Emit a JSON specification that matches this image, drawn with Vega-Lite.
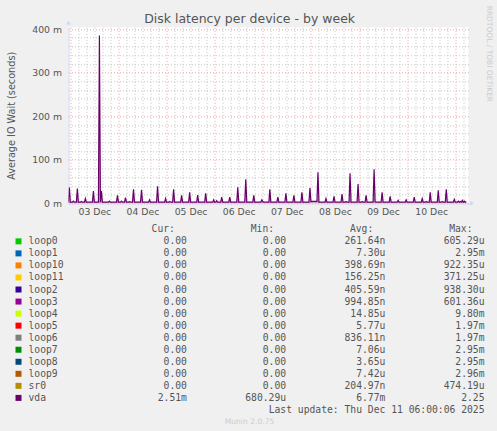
{
  "$schema": "https://vega.github.io/schema/vega-lite/v6.json",
  "background": "#f0f0f0",
  "padding": {"left": 5.5, "top": 5.3, "right": 12, "bottom": 12},
  "autosize": "pad",
  "config": {"view": {"stroke": null}, "font": "DejaVu Sans"},
  "title": {
    "text": "Disk latency per device - by week",
    "anchor": "middle",
    "frame": "bounds",
    "font": "DejaVu Sans",
    "fontSize": 12.5,
    "fontWeight": "normal",
    "color": "#555555",
    "offset": -20
  },
  "spacing": 7,
  "datasets": {
    "vda": [
      {"t": "2025-12-02T23:00", "v": 0.0025}, {"t": "2025-12-02T23:30", "v": 0.036}, {"t": "2025-12-03T00:00", "v": 0.0025},
      {"t": "2025-12-03T01:00", "v": 0.0025}, {"t": "2025-12-03T01:30", "v": 0.005}, {"t": "2025-12-03T02:00", "v": 0.0025},
      {"t": "2025-12-03T03:00", "v": 0.0025}, {"t": "2025-12-03T03:30", "v": 0.034}, {"t": "2025-12-03T04:00", "v": 0.0025},
      {"t": "2025-12-03T05:00", "v": 0.0025}, {"t": "2025-12-03T05:30", "v": 0.004}, {"t": "2025-12-03T06:00", "v": 0.0025},
      {"t": "2025-12-03T07:00", "v": 0.0025}, {"t": "2025-12-03T07:30", "v": 0.011}, {"t": "2025-12-03T08:00", "v": 0.0025},
      {"t": "2025-12-03T11:00", "v": 0.0025}, {"t": "2025-12-03T11:30", "v": 0.028}, {"t": "2025-12-03T12:00", "v": 0.0025},
      {"t": "2025-12-03T14:00", "v": 0.0025}, {"t": "2025-12-03T14:30", "v": 0.385}, {"t": "2025-12-03T15:00", "v": 0.0025},
      {"t": "2025-12-03T15:30", "v": 0.028}, {"t": "2025-12-03T16:00", "v": 0.0025},
      {"t": "2025-12-03T19:00", "v": 0.0025}, {"t": "2025-12-03T19:30", "v": 0.005}, {"t": "2025-12-03T20:00", "v": 0.0025},
      {"t": "2025-12-03T23:00", "v": 0.0025}, {"t": "2025-12-03T23:30", "v": 0.018}, {"t": "2025-12-04T00:00", "v": 0.0025},
      {"t": "2025-12-04T01:00", "v": 0.0025}, {"t": "2025-12-04T01:30", "v": 0.005}, {"t": "2025-12-04T02:00", "v": 0.0025},
      {"t": "2025-12-04T03:00", "v": 0.0025}, {"t": "2025-12-04T03:30", "v": 0.013}, {"t": "2025-12-04T04:00", "v": 0.0025},
      {"t": "2025-12-04T05:00", "v": 0.0025}, {"t": "2025-12-04T05:30", "v": 0.004}, {"t": "2025-12-04T06:00", "v": 0.0025},
      {"t": "2025-12-04T07:00", "v": 0.0025}, {"t": "2025-12-04T07:30", "v": 0.032}, {"t": "2025-12-04T08:00", "v": 0.0025},
      {"t": "2025-12-04T11:00", "v": 0.0025}, {"t": "2025-12-04T11:30", "v": 0.031}, {"t": "2025-12-04T12:00", "v": 0.0025},
      {"t": "2025-12-04T15:00", "v": 0.0025}, {"t": "2025-12-04T15:30", "v": 0.008}, {"t": "2025-12-04T16:00", "v": 0.0025},
      {"t": "2025-12-04T19:00", "v": 0.0025}, {"t": "2025-12-04T19:30", "v": 0.039}, {"t": "2025-12-04T20:00", "v": 0.0025},
      {"t": "2025-12-04T23:00", "v": 0.0025}, {"t": "2025-12-04T23:30", "v": 0.011}, {"t": "2025-12-05T00:00", "v": 0.0025},
      {"t": "2025-12-05T01:00", "v": 0.0025}, {"t": "2025-12-05T01:30", "v": 0.004}, {"t": "2025-12-05T02:00", "v": 0.0025},
      {"t": "2025-12-05T03:00", "v": 0.0025}, {"t": "2025-12-05T03:30", "v": 0.032}, {"t": "2025-12-05T04:00", "v": 0.0025},
      {"t": "2025-12-05T07:00", "v": 0.0025}, {"t": "2025-12-05T07:30", "v": 0.018}, {"t": "2025-12-05T08:00", "v": 0.0025},
      {"t": "2025-12-05T11:00", "v": 0.0025}, {"t": "2025-12-05T11:30", "v": 0.025}, {"t": "2025-12-05T12:00", "v": 0.0025},
      {"t": "2025-12-05T15:00", "v": 0.0025}, {"t": "2025-12-05T15:30", "v": 0.019}, {"t": "2025-12-05T16:00", "v": 0.0025},
      {"t": "2025-12-05T19:00", "v": 0.0025}, {"t": "2025-12-05T19:30", "v": 0.023}, {"t": "2025-12-05T20:00", "v": 0.0025},
      {"t": "2025-12-05T23:00", "v": 0.0025}, {"t": "2025-12-05T23:30", "v": 0.008}, {"t": "2025-12-06T00:00", "v": 0.0025},
      {"t": "2025-12-06T00:30", "v": 0.0025}, {"t": "2025-12-06T01:00", "v": 0.006}, {"t": "2025-12-06T01:30", "v": 0.0025},
      {"t": "2025-12-06T03:00", "v": 0.0025}, {"t": "2025-12-06T03:30", "v": 0.014}, {"t": "2025-12-06T04:00", "v": 0.0025},
      {"t": "2025-12-06T07:00", "v": 0.0025}, {"t": "2025-12-06T07:30", "v": 0.014}, {"t": "2025-12-06T08:00", "v": 0.0025},
      {"t": "2025-12-06T11:00", "v": 0.0025}, {"t": "2025-12-06T11:30", "v": 0.037}, {"t": "2025-12-06T12:00", "v": 0.0025},
      {"t": "2025-12-06T15:00", "v": 0.0025}, {"t": "2025-12-06T15:30", "v": 0.055}, {"t": "2025-12-06T16:00", "v": 0.0025},
      {"t": "2025-12-06T19:00", "v": 0.0025}, {"t": "2025-12-06T19:30", "v": 0.018}, {"t": "2025-12-06T20:00", "v": 0.0025},
      {"t": "2025-12-06T23:00", "v": 0.0025}, {"t": "2025-12-06T23:30", "v": 0.008}, {"t": "2025-12-07T00:00", "v": 0.004},
      {"t": "2025-12-07T00:30", "v": 0.0025},
      {"t": "2025-12-07T03:00", "v": 0.0025}, {"t": "2025-12-07T03:30", "v": 0.032}, {"t": "2025-12-07T04:00", "v": 0.0025},
      {"t": "2025-12-07T07:00", "v": 0.0025}, {"t": "2025-12-07T07:30", "v": 0.014}, {"t": "2025-12-07T08:00", "v": 0.0025},
      {"t": "2025-12-07T11:00", "v": 0.0025}, {"t": "2025-12-07T11:30", "v": 0.023}, {"t": "2025-12-07T12:00", "v": 0.0025},
      {"t": "2025-12-07T15:00", "v": 0.0025}, {"t": "2025-12-07T15:30", "v": 0.018}, {"t": "2025-12-07T16:00", "v": 0.0025},
      {"t": "2025-12-07T19:00", "v": 0.0025}, {"t": "2025-12-07T19:30", "v": 0.025}, {"t": "2025-12-07T20:00", "v": 0.0025},
      {"t": "2025-12-07T23:00", "v": 0.0025}, {"t": "2025-12-07T23:30", "v": 0.035}, {"t": "2025-12-08T00:00", "v": 0.0045},
      {"t": "2025-12-08T01:00", "v": 0.0045}, {"t": "2025-12-08T02:00", "v": 0.0045}, {"t": "2025-12-08T03:00", "v": 0.0045},
      {"t": "2025-12-08T03:30", "v": 0.071}, {"t": "2025-12-08T04:00", "v": 0.0025},
      {"t": "2025-12-08T07:00", "v": 0.0025}, {"t": "2025-12-08T07:30", "v": 0.011}, {"t": "2025-12-08T08:00", "v": 0.0025},
      {"t": "2025-12-08T11:00", "v": 0.0025}, {"t": "2025-12-08T11:30", "v": 0.016}, {"t": "2025-12-08T12:00", "v": 0.0025},
      {"t": "2025-12-08T15:00", "v": 0.0025}, {"t": "2025-12-08T15:30", "v": 0.021}, {"t": "2025-12-08T16:00", "v": 0.0025},
      {"t": "2025-12-08T17:00", "v": 0.0025}, {"t": "2025-12-08T17:30", "v": 0.004}, {"t": "2025-12-08T18:00", "v": 0.0025},
      {"t": "2025-12-08T19:00", "v": 0.0025}, {"t": "2025-12-08T19:30", "v": 0.069}, {"t": "2025-12-08T20:00", "v": 0.0025},
      {"t": "2025-12-08T23:00", "v": 0.0025}, {"t": "2025-12-08T23:30", "v": 0.044}, {"t": "2025-12-09T00:00", "v": 0.0025},
      {"t": "2025-12-09T01:00", "v": 0.0025}, {"t": "2025-12-09T01:30", "v": 0.004}, {"t": "2025-12-09T02:00", "v": 0.0025},
      {"t": "2025-12-09T03:00", "v": 0.0025}, {"t": "2025-12-09T03:30", "v": 0.018}, {"t": "2025-12-09T04:00", "v": 0.0025},
      {"t": "2025-12-09T07:00", "v": 0.0025}, {"t": "2025-12-09T07:30", "v": 0.078}, {"t": "2025-12-09T08:00", "v": 0.004},
      {"t": "2025-12-09T08:30", "v": 0.0025},
      {"t": "2025-12-09T11:00", "v": 0.0025}, {"t": "2025-12-09T11:30", "v": 0.025}, {"t": "2025-12-09T12:00", "v": 0.0025},
      {"t": "2025-12-09T15:00", "v": 0.0025}, {"t": "2025-12-09T15:30", "v": 0.016}, {"t": "2025-12-09T16:00", "v": 0.0025},
      {"t": "2025-12-09T19:00", "v": 0.0025}, {"t": "2025-12-09T19:30", "v": 0.007}, {"t": "2025-12-09T20:00", "v": 0.0025},
      {"t": "2025-12-09T23:00", "v": 0.0025}, {"t": "2025-12-09T23:30", "v": 0.008}, {"t": "2025-12-10T00:00", "v": 0.0025},
      {"t": "2025-12-10T03:00", "v": 0.0025}, {"t": "2025-12-10T03:30", "v": 0.014}, {"t": "2025-12-10T04:00", "v": 0.0025},
      {"t": "2025-12-10T07:00", "v": 0.0025}, {"t": "2025-12-10T07:30", "v": 0.011}, {"t": "2025-12-10T08:00", "v": 0.0025},
      {"t": "2025-12-10T09:00", "v": 0.0025}, {"t": "2025-12-10T09:30", "v": 0.004}, {"t": "2025-12-10T10:00", "v": 0.0025},
      {"t": "2025-12-10T11:00", "v": 0.0025}, {"t": "2025-12-10T11:30", "v": 0.025}, {"t": "2025-12-10T12:00", "v": 0.0025},
      {"t": "2025-12-10T15:00", "v": 0.0025}, {"t": "2025-12-10T15:30", "v": 0.030}, {"t": "2025-12-10T16:00", "v": 0.0025},
      {"t": "2025-12-10T17:00", "v": 0.0025}, {"t": "2025-12-10T17:30", "v": 0.004}, {"t": "2025-12-10T18:00", "v": 0.0025},
      {"t": "2025-12-10T19:00", "v": 0.0025}, {"t": "2025-12-10T19:30", "v": 0.032}, {"t": "2025-12-10T20:00", "v": 0.0025},
      {"t": "2025-12-10T23:00", "v": 0.0025}, {"t": "2025-12-10T23:30", "v": 0.009}, {"t": "2025-12-11T00:00", "v": 0.0025},
      {"t": "2025-12-11T01:00", "v": 0.0025}, {"t": "2025-12-11T01:30", "v": 0.005}, {"t": "2025-12-11T02:00", "v": 0.0025},
      {"t": "2025-12-11T02:30", "v": 0.004}, {"t": "2025-12-11T03:00", "v": 0.0025}, {"t": "2025-12-11T03:30", "v": 0.007},
      {"t": "2025-12-11T04:00", "v": 0.0025}, {"t": "2025-12-11T04:30", "v": 0.005}, {"t": "2025-12-11T05:00", "v": 0.0025},
      {"t": "2025-12-11T05:30", "v": 0.0035}
    ],
    "devices": [
      {"name": "loop0", "cur": "0.00", "min": "0.00", "avg": "261.64n", "max": "605.29u"},
      {"name": "loop1", "cur": "0.00", "min": "0.00", "avg": "7.30u", "max": "2.95m"},
      {"name": "loop10", "cur": "0.00", "min": "0.00", "avg": "398.69n", "max": "922.35u"},
      {"name": "loop11", "cur": "0.00", "min": "0.00", "avg": "156.25n", "max": "371.25u"},
      {"name": "loop2", "cur": "0.00", "min": "0.00", "avg": "405.59n", "max": "938.30u"},
      {"name": "loop3", "cur": "0.00", "min": "0.00", "avg": "994.85n", "max": "601.36u"},
      {"name": "loop4", "cur": "0.00", "min": "0.00", "avg": "14.85u", "max": "9.80m"},
      {"name": "loop5", "cur": "0.00", "min": "0.00", "avg": "5.77u", "max": "1.97m"},
      {"name": "loop6", "cur": "0.00", "min": "0.00", "avg": "836.11n", "max": "1.97m"},
      {"name": "loop7", "cur": "0.00", "min": "0.00", "avg": "7.06u", "max": "2.95m"},
      {"name": "loop8", "cur": "0.00", "min": "0.00", "avg": "3.65u", "max": "2.95m"},
      {"name": "loop9", "cur": "0.00", "min": "0.00", "avg": "7.42u", "max": "2.96m"},
      {"name": "sr0", "cur": "0.00", "min": "0.00", "avg": "204.97n", "max": "474.19u"},
      {"name": "vda", "cur": "2.51m", "min": "680.29u", "avg": "6.77m", "max": "2.25"}
    ]
  },
  "vconcat": [
    {
      "width": 400,
      "height": 176,
      "view": {"fill": "#ffffff", "stroke": null},
      "resolve": {"axis": {"x": "independent", "y": "independent"}},
      "layer": [
        {
          "data": {"name": "vda"},
          "mark": {"type": "line", "color": "#6B006B", "strokeWidth": 1.2, "clip": true},
          "encoding": {
            "x": {
              "field": "t",
              "type": "temporal",
              "scale": {"domain": [
                {"year": 2025, "month": 12, "date": 2, "hours": 23, "minutes": 5},
                {"year": 2025, "month": 12, "date": 11, "hours": 6, "minutes": 35}
              ]},
              "axis": {
                "orient": "bottom",
                "title": null,
                "values": [
                  {"year": 2025, "month": 12, "date": 3}, {"year": 2025, "month": 12, "date": 4}, {"year": 2025, "month": 12, "date": 5},
                  {"year": 2025, "month": 12, "date": 6}, {"year": 2025, "month": 12, "date": 7}, {"year": 2025, "month": 12, "date": 8},
                  {"year": 2025, "month": 12, "date": 9}, {"year": 2025, "month": 12, "date": 10}, {"year": 2025, "month": 12, "date": 11}
                ],
                "format": "%d %b",
                "labelExpr": "datum.label == '11 Dec' ? '' : datum.label",
                "labelOffset": 24,
                "labelFlush": false,
                "labelFont": "DejaVu Sans",
                "labelFontSize": 9.3,
                "labelColor": "#555555",
                "labelPadding": 4,
                "ticks": false,
                "grid": true,
                "gridColor": "#eba0a0",
                "gridDash": [1, 2],
                "domainColor": "#cfd6f8"
              }
            },
            "y": {
              "field": "v",
              "type": "quantitative",
              "scale": {"domain": [0, 0.404], "nice": false},
              "axis": {
                "orient": "left",
                "title": "Average IO Wait (seconds)",
                "titleFont": "DejaVu Sans",
                "titleFontSize": 9.7,
                "titleFontWeight": "normal",
                "titleColor": "#555555",
                "titleX": -57,
                "titleBaseline": "middle",
                "values": [0, 0.1, 0.2, 0.3, 0.4],
                "format": "~s",
                "labelExpr": "replace(datum.label, 'm', ' m')",
                "labelFont": "DejaVu Sans",
                "labelFontSize": 9.3,
                "labelColor": "#555555",
                "labelPadding": 7,
                "ticks": false,
                "grid": true,
                "gridColor": "#eba0a0",
                "gridDash": [1, 2],
                "domainColor": "#cfd6f8"
              }
            }
          }
        },
        {
          "data": {"name": "vda"},
          "mark": {"type": "area", "color": "#6B006B", "opacity": 0.35, "clip": true},
          "encoding": {
            "x": {"field": "t", "type": "temporal", "axis": null},
            "y": {"field": "v", "type": "quantitative", "axis": null}
          }
        },
        {
          "data": {"values": [{}]},
          "mark": {"type": "point", "shape": "triangle-up", "filled": true, "color": "#cfd6f8", "opacity": 1, "size": 22, "clip": false},
          "encoding": {
            "x": {
              "datum": {"year": 2025, "month": 12, "date": 2, "hours": 23, "minutes": 5},
              "type": "temporal",
              "axis": {
                "orient": "bottom",
                "title": null,
                "labels": false,
                "ticks": false,
                "domain": false,
                "grid": true,
                "gridColor": "#c4c4c4",
                "gridDash": [1, 2],
                "values": [
                  {"year": 2025, "month": 12, "date": 3, "hours": 4}, {"year": 2025, "month": 12, "date": 3, "hours": 8}, {"year": 2025, "month": 12, "date": 3, "hours": 12}, {"year": 2025, "month": 12, "date": 3, "hours": 16}, {"year": 2025, "month": 12, "date": 3, "hours": 20},
                  {"year": 2025, "month": 12, "date": 4, "hours": 4}, {"year": 2025, "month": 12, "date": 4, "hours": 8}, {"year": 2025, "month": 12, "date": 4, "hours": 12}, {"year": 2025, "month": 12, "date": 4, "hours": 16}, {"year": 2025, "month": 12, "date": 4, "hours": 20},
                  {"year": 2025, "month": 12, "date": 5, "hours": 4}, {"year": 2025, "month": 12, "date": 5, "hours": 8}, {"year": 2025, "month": 12, "date": 5, "hours": 12}, {"year": 2025, "month": 12, "date": 5, "hours": 16}, {"year": 2025, "month": 12, "date": 5, "hours": 20},
                  {"year": 2025, "month": 12, "date": 6, "hours": 4}, {"year": 2025, "month": 12, "date": 6, "hours": 8}, {"year": 2025, "month": 12, "date": 6, "hours": 12}, {"year": 2025, "month": 12, "date": 6, "hours": 16}, {"year": 2025, "month": 12, "date": 6, "hours": 20},
                  {"year": 2025, "month": 12, "date": 7, "hours": 4}, {"year": 2025, "month": 12, "date": 7, "hours": 8}, {"year": 2025, "month": 12, "date": 7, "hours": 12}, {"year": 2025, "month": 12, "date": 7, "hours": 16}, {"year": 2025, "month": 12, "date": 7, "hours": 20},
                  {"year": 2025, "month": 12, "date": 8, "hours": 4}, {"year": 2025, "month": 12, "date": 8, "hours": 8}, {"year": 2025, "month": 12, "date": 8, "hours": 12}, {"year": 2025, "month": 12, "date": 8, "hours": 16}, {"year": 2025, "month": 12, "date": 8, "hours": 20},
                  {"year": 2025, "month": 12, "date": 9, "hours": 4}, {"year": 2025, "month": 12, "date": 9, "hours": 8}, {"year": 2025, "month": 12, "date": 9, "hours": 12}, {"year": 2025, "month": 12, "date": 9, "hours": 16}, {"year": 2025, "month": 12, "date": 9, "hours": 20},
                  {"year": 2025, "month": 12, "date": 10, "hours": 4}, {"year": 2025, "month": 12, "date": 10, "hours": 8}, {"year": 2025, "month": 12, "date": 10, "hours": 12}, {"year": 2025, "month": 12, "date": 10, "hours": 16}, {"year": 2025, "month": 12, "date": 10, "hours": 20},
                  {"year": 2025, "month": 12, "date": 11, "hours": 4}
                ]
              }
            },
            "y": {
              "datum": 0.415,
              "type": "quantitative",
              "axis": {
                "orient": "left",
                "title": null,
                "labels": false,
                "ticks": false,
                "domain": false,
                "grid": true,
                "gridColor": "#c4c4c4",
                "gridDash": [1, 2],
                "values": [0.02, 0.04, 0.06, 0.08, 0.12, 0.14, 0.16, 0.18, 0.22, 0.24, 0.26, 0.28, 0.32, 0.34, 0.36, 0.38]
              }
            }
          }
        },
        {
          "data": {"values": [{}]},
          "mark": {"type": "point", "shape": "triangle-right", "filled": true, "color": "#cfd6f8", "opacity": 1, "size": 22, "clip": false},
          "encoding": {
            "x": {"datum": {"year": 2025, "month": 12, "date": 11, "hours": 8, "minutes": 20}, "type": "temporal", "axis": null},
            "y": {"datum": 0, "type": "quantitative", "axis": null}
          }
        },
        {
          "data": {"values": [{"label": "RRDTOOL / TOBI OETIKER"}]},
          "mark": {"type": "text", "angle": 90, "align": "center", "baseline": "middle", "font": "DejaVu Sans", "fontSize": 7.5, "color": "#cccccc", "clip": false},
          "encoding": {
            "x": {"datum": {"year": 2025, "month": 12, "date": 11, "hours": 16, "minutes": 41}, "type": "temporal", "axis": null},
            "y": {"datum": 0.343, "type": "quantitative", "axis": null},
            "text": {"field": "label"}
          }
        }
      ]
    },
    {
      "width": 416,
      "height": 192.7,
      "view": {"stroke": null},
      "layer": [
        {
          "data": {"name": "devices"},
          "mark": {"type": "square", "size": 36, "filled": true, "opacity": 1},
          "encoding": {
            "x": {"value": -50},
            "y": {"field": "name", "type": "ordinal", "axis": null, "scale": {"type": "point", "padding": 0, "domain": ["hdr", "loop0", "loop1", "loop10", "loop11", "loop2", "loop3", "loop4", "loop5", "loop6", "loop7", "loop8", "loop9", "sr0", "vda", "upd", "munin"]}},
            "color": {
              "field": "name",
              "type": "nominal",
              "legend": null,
              "scale": {
                "domain": ["loop0", "loop1", "loop10", "loop11", "loop2", "loop3", "loop4", "loop5", "loop6", "loop7", "loop8", "loop9", "sr0", "vda"],
                "range": ["#00CC00", "#0066B3", "#FF8000", "#FFCC00", "#330099", "#990099", "#CCFF00", "#FF0000", "#808080", "#008F00", "#00487D", "#B35A00", "#B38F00", "#6B006B"]
              }
            }
          }
        },
        {
          "data": {"name": "devices"},
          "mark": {"type": "text", "align": "left", "baseline": "middle", "font": "DejaVu Sans Mono", "fontSize": 9.7, "color": "#555555"},
          "encoding": {
            "x": {"value": -40},
            "y": {"field": "name", "type": "ordinal", "axis": null},
            "text": {"field": "name"}
          }
        },
        {
          "data": {"name": "devices"},
          "transform": [
            {"fold": ["cur", "min", "avg", "max"], "as": ["key", "val"]},
            {"calculate": "indexof('0123456789', substring(datum.val, length(datum.val) - 1)) >= 0 ? datum.val + '\u00a0' : datum.val", "as": "label"}
          ],
          "mark": {"type": "text", "align": "right", "baseline": "middle", "font": "DejaVu Sans Mono", "fontSize": 9.7, "color": "#555555"},
          "encoding": {
            "x": {"field": "key", "type": "ordinal", "axis": null, "scale": {"type": "point", "padding": 0.5968, "align": 1, "domain": ["cur", "min", "avg", "max"]}},
            "y": {"field": "name", "type": "ordinal", "axis": null},
            "text": {"field": "label"}
          }
        },
        {
          "data": {"values": [{"key": "cur", "label": "Cur:"}, {"key": "min", "label": "Min:"}, {"key": "avg", "label": "Avg:"}, {"key": "max", "label": "Max:"}]},
          "mark": {"type": "text", "align": "right", "baseline": "middle", "dx": -12, "font": "DejaVu Sans Mono", "fontSize": 9.7, "color": "#555555"},
          "encoding": {
            "x": {"field": "key", "type": "ordinal", "axis": null},
            "y": {"datum": "hdr", "type": "ordinal", "axis": null},
            "text": {"field": "label"}
          }
        },
        {
          "data": {"values": [{"label": "Last update: Thu Dec 11 06:00:06 2025"}]},
          "mark": {"type": "text", "align": "right", "baseline": "middle", "font": "DejaVu Sans Mono", "fontSize": 9.7, "color": "#555555"},
          "encoding": {
            "x": {"datum": "max", "type": "ordinal", "axis": null},
            "y": {"datum": "upd", "type": "ordinal", "axis": null},
            "text": {"field": "label"}
          }
        },
        {
          "data": {"values": [{"label": "Munin 2.0.75"}]},
          "mark": {"type": "text", "align": "center", "baseline": "middle", "font": "DejaVu Sans", "fontSize": 7.6, "color": "#cccccc"},
          "encoding": {
            "x": {"value": 181},
            "y": {"datum": "munin", "type": "ordinal", "axis": null},
            "text": {"field": "label"}
          }
        }
      ]
    }
  ]
}
